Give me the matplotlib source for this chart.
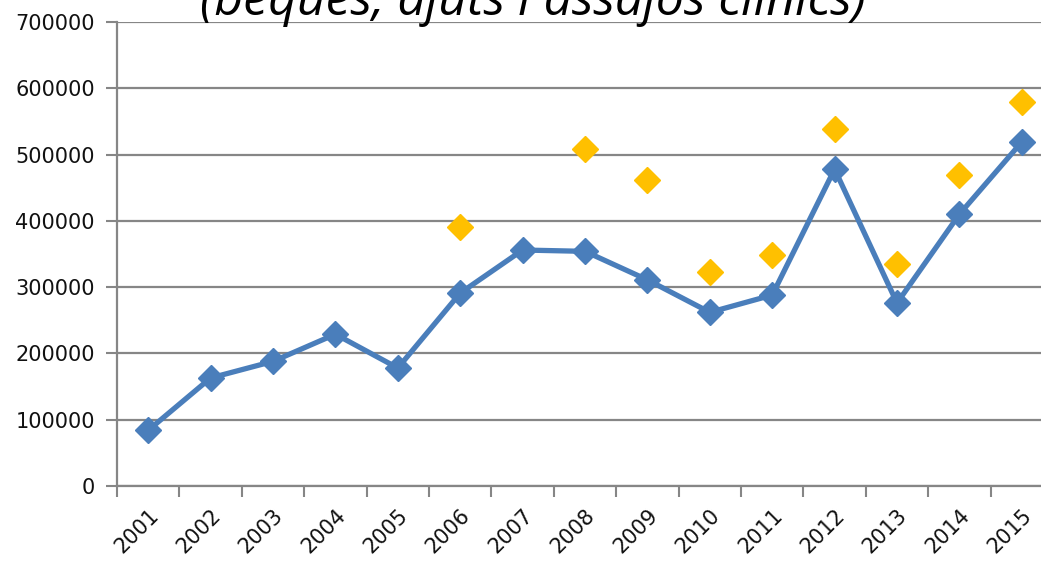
import matplotlib
matplotlib.use("Agg")
import matplotlib.pyplot as plt
import numpy as np

years = ["2001", "2002", "2003", "2004", "2005", "2006", "2007", "2008",
         "2009", "2010", "2011", "2012", "2013", "2014", "2015"]
series_blue = [84000, 163000, 188000, 229000, 178000, 291000, 356000, 354000,
               311000, 262000, 288000, 478000, 276000, 410000, 519000]
series_yellow = [np.nan, np.nan, np.nan, np.nan, np.nan, 391000, np.nan, 508000,
                 461000, 323000, 348000, 538000, 335000, 469000, 579000]
yticks = [0, 100000, 200000, 300000, 400000, 500000, 600000, 700000]
title = "(beques, ajuts i assajos clínics)"

W, H = 1041, 564
fig = plt.figure(figsize=(W / 100, H / 100), dpi=100)
left, right = 117 / W, 1053 / W
bottom, top = (H - 486) / H, (H - 22) / H
ax = fig.add_axes([left, bottom, right - left, top - bottom])

x = np.arange(len(years))
ax.plot(x, series_blue, color="#4A7EBB", lw=3.8, marker="D", ms=13,
        markeredgecolor="#4A7EBB", zorder=3, solid_capstyle="round")
ax.plot(x, series_yellow, ls="none", color="#FFC000", marker="D", ms=13,
        markeredgecolor="#FFC000", zorder=3)

ax.set_xlim(-0.5, len(years) - 0.5)
ax.set_ylim(0, 700000)
ax.set_yticks(yticks)
ax.set_yticklabels([str(v) for v in yticks])
ax.set_xticks(x)
ax.set_xticklabels(years, rotation=45, ha="right", rotation_mode="anchor")
ax.set_xticks(np.arange(-0.5, len(years), 1.0), minor=True)
ax.tick_params(axis="x", which="major", length=0, pad=14, labelsize=15)
ax.tick_params(axis="x", which="minor", length=8, width=1.5, color="#868686")
ax.tick_params(axis="y", length=8, width=1.5, color="#868686", labelsize=15, pad=8)
for lab in ax.get_xticklabels() + ax.get_yticklabels():
    lab.set_color("#111111")

ax.grid(axis="y", color="#868686", lw=1.6)
ax.set_axisbelow(True)
for s in ["top", "right"]:
    ax.spines[s].set_visible(False)
for s in ["left", "bottom"]:
    ax.spines[s].set_color("#868686")
    ax.spines[s].set_linewidth(1.6)

fig.text((197 + 870) / 2 / W, 1 - 15 / H, title, ha="center", va="baseline",
         fontsize=36, style="italic", family="Open Sans", color="black")

fig.savefig("out.png", dpi=100)
